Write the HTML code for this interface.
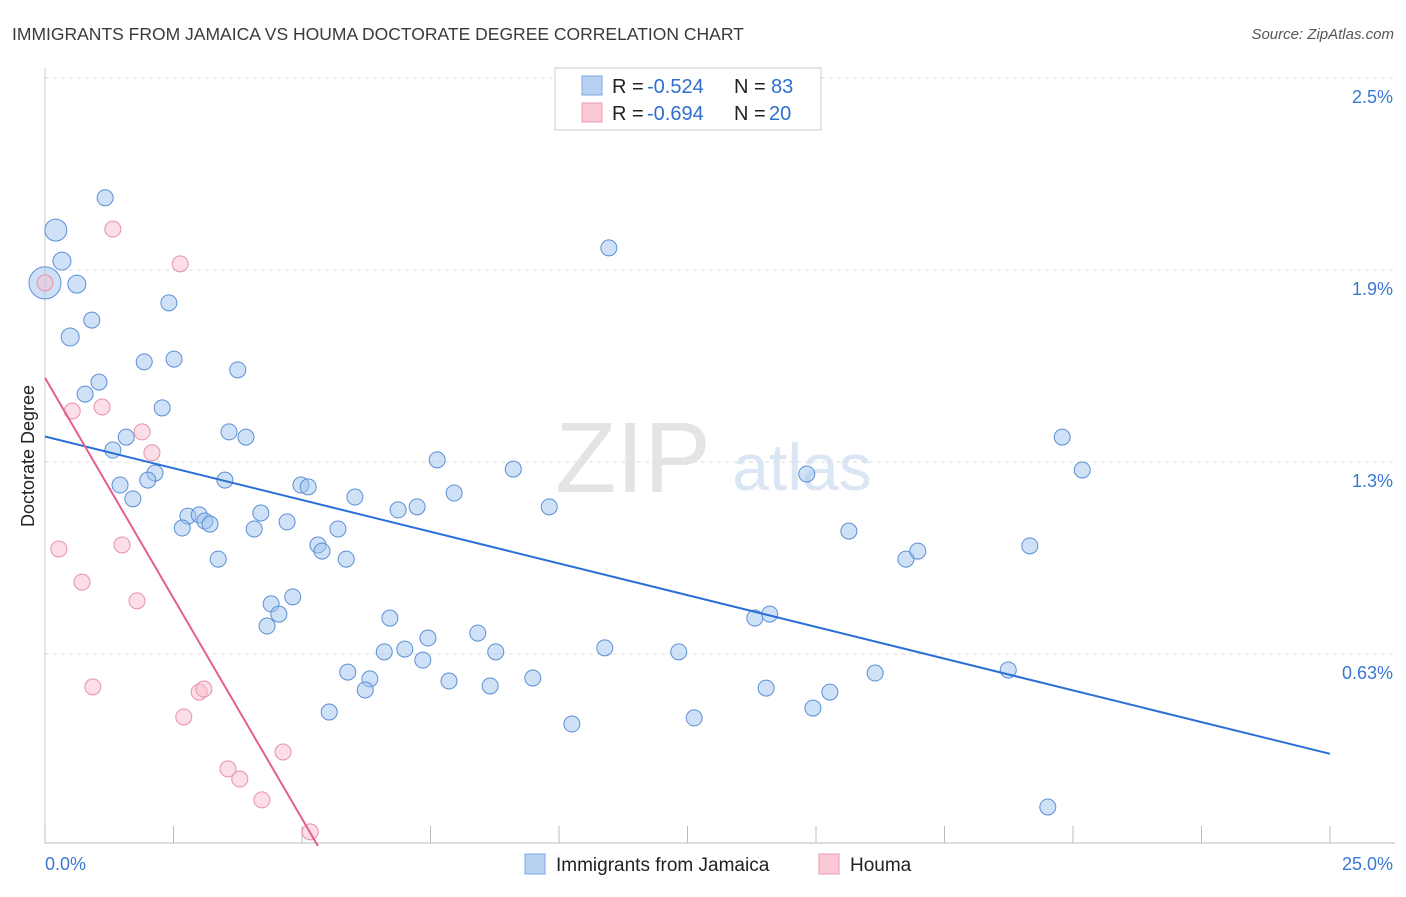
<!DOCTYPE html>
<html><head><meta charset="utf-8"><style>
body{margin:0;background:#fff;font-family:"Liberation Sans",sans-serif}
svg text{font-family:"Liberation Sans",sans-serif}
</style></head><body>
<svg id="chart" width="1406" height="892">
<text x="12" y="40" font-size="17.5" fill="#3a3a3a">IMMIGRANTS FROM JAMAICA VS HOUMA DOCTORATE DEGREE CORRELATION CHART</text>
<text x="1394" y="39" font-size="15" fill="#555" font-style="italic" text-anchor="end">Source: ZipAtlas.com</text>
<text x="633" y="492" font-size="100" fill="#e4e4e4" font-family="Liberation Serif" text-anchor="middle">ZIP</text>
<text x="802" y="490" font-size="66" fill="#dbe6f5" text-anchor="middle">atlas</text>
<g id="grid"></g><g id="axes"></g><g id="pts"></g><g id="lines"></g>
<text transform="translate(34,456) rotate(-90)" font-size="18" fill="#222" text-anchor="middle">Doctorate Degree</text>
<g>
<rect x="555" y="68" width="266" height="62" fill="#fff" stroke="#ccc"/>
<rect x="582" y="76" width="20" height="19" fill="#b8d1f3" stroke="#7ea7e0"/>
<rect x="582" y="103" width="20" height="19" fill="#f9c9d6" stroke="#ec9ab3"/>
<text x="612" y="93" font-size="20" fill="#222">R =</text>
<text x="647" y="93" font-size="20" fill="#2e6fd0">-0.524</text>
<text x="734" y="93" font-size="20" fill="#222">N =</text>
<text x="771" y="93" font-size="20" fill="#2e6fd0">83</text>
<text x="612" y="120" font-size="20" fill="#222">R =</text>
<text x="647" y="120" font-size="20" fill="#2e6fd0">-0.694</text>
<text x="734" y="120" font-size="20" fill="#222">N =</text>
<text x="769" y="120" font-size="20" fill="#2e6fd0">20</text>
</g>
<g>
<rect x="525" y="854" width="20" height="20" fill="#b8d1f3" stroke="#7ea7e0"/>
<text x="556" y="871" font-size="19" fill="#222">Immigrants from Jamaica</text>
<rect x="819" y="854" width="20" height="20" fill="#f9c9d6" stroke="#ec9ab3"/>
<text x="850" y="871" font-size="19" fill="#222">Houma</text>
</g>
</svg>
<script>
const yTicks=[0.625,1.25,1.875,2.5];
const yTickLabels=["0.63%","1.3%","1.9%","2.5%"];
const xTicks=[0,2.5,5,7.5,10,12.5,15,17.5,20,22.5,25];
const blueX=[1.17,0.21,0.33,0,0.62,0.91,0.49,2.41,1.93,2.51,1.05,0.78,3.75,2.28,1.58,3.58,3.91,1.32,2.14,1.46,2.0,3.5,1.71,2.78,3.0,2.67,3.11,3.21,4.2,4.71,4.07,4.98,5.12,6.03,3.37,5.31,5.39,5.7,5.86,6.87,7.24,7.63,7.96,9.11,9.81,10.97,4.4,4.55,4.82,4.32,6.71,7.45,6.6,7.0,7.35,8.42,8.77,5.89,6.32,6.23,7.86,8.66,9.49,5.53,10.25,10.89,12.33,12.63,13.81,14.1,14.03,14.82,15.64,15.27,14.94,16.75,16.98,16.15,18.74,19.16,19.79,20.18,19.51];
const blueY=[2.11,2.005,1.904,1.833,1.829,1.712,1.657,1.768,1.576,1.585,1.51,1.471,1.55,1.426,1.331,1.348,1.331,1.289,1.214,1.175,1.191,1.191,1.13,1.074,1.078,1.035,1.058,1.048,1.084,1.055,1.032,1.175,1.169,1.136,0.934,0.98,0.96,1.032,0.934,1.094,1.104,1.257,1.149,1.227,1.104,1.947,0.788,0.755,0.811,0.716,0.742,0.677,0.632,0.641,0.605,0.693,0.632,0.566,0.544,0.508,0.537,0.521,0.547,0.436,0.397,0.645,0.632,0.417,0.742,0.755,0.514,1.211,1.025,0.501,0.449,0.934,0.96,0.563,0.573,0.977,1.331,1.224,0.127];
const blueR=[8,11,9,16,9,8,9,8,8,8,8,8,8,8,8,8,8,8,8,8,8,8,8,8,8,8,8,8,8,8,8,8,8,8,8,8,8,8,8,8,8,8,8,8,8,8,8,8,8,8,8,8,8,8,8,8,8,8,8,8,8,8,8,8,8,8,8,8,8,8,8,8,8,8,8,8,8,8,8,8,8,8,8];
const pinkX=[1.32,2.63,0,0.53,1.11,1.89,2.08,0.27,1.5,0.72,1.79,0.93,2.7,3.0,3.09,3.56,3.79,4.22,4.63,5.16];
const pinkY=[2.008,1.895,1.833,1.416,1.429,1.348,1.28,0.967,0.98,0.859,0.798,0.518,0.42,0.501,0.511,0.251,0.218,0.15,0.306,0.046];
const blueFit=[1.333,0.3];
const pinkFit=[1.524,0];
const pinkFitEndX=5.31;
const X=v=>45+v*51.4, Y=v=>846-v*307.2;
const NS="http://www.w3.org/2000/svg";
function mk(p,t,a){const e=document.createElementNS(NS,t);for(const k in a)e.setAttribute(k,a[k]);document.getElementById(p).appendChild(e);return e;}
yTicks.forEach((t,i)=>{
 const l=mk('grid','line',{x1:45,x2:1395,y1:Y(t),y2:Y(t),stroke:'#ddd','stroke-dasharray':'4,4'});
 
 
 const tx=mk('axes','text',{x:1393,y:Y(t)+25,'font-size':18,fill:'#3a78d4','text-anchor':'end'});tx.textContent=yTickLabels[i];
 
 
});
const ax=mk('axes','line',{x1:45,x2:1395,y1:843,y2:843,stroke:'#bbb'});


const ay=mk('axes','line',{x1:45,x2:45,y1:68,y2:843,stroke:'#ccc'});


xTicks.forEach(t=>{const l=mk('axes','line',{x1:X(t),x2:X(t),y1:826,y2:843,stroke:'#bbb'});
 
 });
const x0=mk('axes','text',{x:45,y:870,'font-size':18,fill:'#3a78d4'});x0.textContent="0.0%";


const x1=mk('axes','text',{x:1393,y:870,'font-size':18,fill:'#3a78d4','text-anchor':'end'});x1.textContent="25.0%";


blueX.forEach((v,i)=>{const c=mk('pts','circle',{cx:X(v),cy:Y(blueY[i]),r:blueR[i],fill:'rgba(160,195,240,0.5)',stroke:'#5b8fd6','stroke-width':1});
 
 });
pinkX.forEach((v,i)=>{const c=mk('pts','circle',{cx:X(v),cy:Y(pinkY[i]),r:8,fill:'rgba(248,190,205,0.5)',stroke:'#e890aa','stroke-width':1});
 
 });
const bl=mk('lines','line',{x1:X(0),y1:Y(blueFit[0]),x2:X(25),y2:Y(blueFit[1]),stroke:'#2a6fd6','stroke-width':2});


const pl=mk('lines','line',{x1:X(0),y1:Y(pinkFit[0]),x2:X(pinkFitEndX),y2:Y(pinkFit[1]),stroke:'#e4608c','stroke-width':2});


</script>
</body></html>
